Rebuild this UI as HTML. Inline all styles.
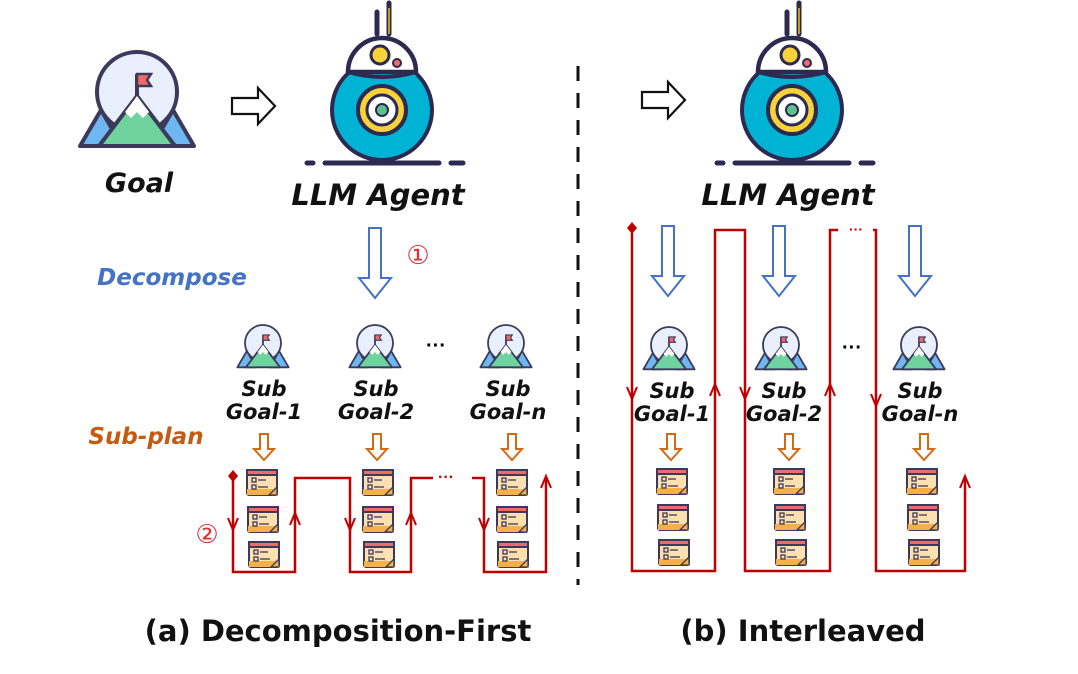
<!DOCTYPE html>
<html><head><meta charset="utf-8"><style>
html,body{margin:0;padding:0;background:#fff;}
svg{display:block;}
.hw{font-family:"DejaVu Sans","Liberation Sans",sans-serif;font-style:italic;font-weight:bold;}
</style></head><body>
<svg width="1078" height="674" viewBox="0 0 1078 674" xmlns="http://www.w3.org/2000/svg">
<defs>
  <g id="mtn">
    <circle cx="0" cy="0" r="40" fill="#E9EFFD" stroke="#3B3A5A" stroke-width="4"/>
    <polygon points="-57,54 -36,18 -15,54" fill="#6FB7F0" stroke="#3B3A5A" stroke-width="4" stroke-linejoin="round"/>
    <polygon points="57,54 36,18 15,54" fill="#6FB7F0" stroke="#3B3A5A" stroke-width="4" stroke-linejoin="round"/>
    <polygon points="-38,54 0,4 38,54" fill="#6ED39E" stroke="#3B3A5A" stroke-width="4" stroke-linejoin="round"/>
    <polygon points="-12,20 0,4 12,20 6,26 0,20 -6,26" fill="#fff"/>
    <line x1="0" y1="4" x2="0" y2="-18" stroke="#3B3A5A" stroke-width="4"/>
    <polygon points="0,-18 14,-18 10,-12 14,-6 0,-6" fill="#F06A6A" stroke="#3B3A5A" stroke-width="2.5"/>
  </g>
  <g id="robot">
    <line x1="0" y1="34" x2="0" y2="12" stroke="#2C2A50" stroke-width="5" stroke-linecap="round"/>
    <line x1="12" y1="34" x2="12" y2="3" stroke="#2C2A50" stroke-width="5" stroke-linecap="round"/>
    <line x1="12" y1="34" x2="12" y2="8" stroke="#F5C400" stroke-width="1.5"/>
    <circle cx="5" cy="110" r="50" fill="#00B3D4" stroke="#2C2A50" stroke-width="4"/>
    <path d="M-29,72 A34,34 0 0 1 39,72 L-29,72 Z" fill="#fff" stroke="#2C2A50" stroke-width="4.5" stroke-linejoin="round"/>
    <path d="M-29,72 Q5,82 39,72" fill="none" stroke="#2C2A50" stroke-width="4"/>
    <circle cx="3" cy="55" r="9" fill="#F7D23A" stroke="#2C2A50" stroke-width="3"/>
    <circle cx="20" cy="63" r="4" fill="#F06A6A" stroke="#2C2A50" stroke-width="2"/>
    <circle cx="5" cy="110" r="24" fill="#F7D23A" stroke="#2C2A50" stroke-width="4"/>
    <circle cx="5" cy="110" r="15" fill="#fff" stroke="#2C2A50" stroke-width="3"/>
    <circle cx="5" cy="110" r="6" fill="#5BC28E" stroke="#2C2A50" stroke-width="2"/>
    <line x1="-70" y1="163" x2="-64" y2="163" stroke="#2C2A50" stroke-width="5" stroke-linecap="round"/>
    <line x1="-52" y1="163" x2="62" y2="163" stroke="#2C2A50" stroke-width="5" stroke-linecap="round"/>
    <line x1="74" y1="163" x2="86" y2="163" stroke="#2C2A50" stroke-width="5" stroke-linecap="round"/>
  </g>
  <g id="cal">
    <rect x="-15" y="-13" width="30" height="25" rx="2" fill="#FCE0B0" stroke="#3B3A5A" stroke-width="2"/>
    <rect x="-15" y="-13" width="30" height="5" fill="#F06A6A" stroke="#3B3A5A" stroke-width="2"/>
    <rect x="-15" y="6" width="30" height="6" fill="#F5B04A"/>
    <rect x="-10" y="-5" width="4" height="4" fill="none" stroke="#3B3A5A" stroke-width="1.3"/>
    <rect x="-10" y="2" width="4" height="4" fill="none" stroke="#3B3A5A" stroke-width="1.3"/>
    <line x1="-4" y1="-3" x2="4" y2="-3" stroke="#3B3A5A" stroke-width="1.3"/>
    <line x1="-4" y1="4" x2="6" y2="4" stroke="#3B3A5A" stroke-width="1.3"/>
    <polygon points="7,12 15,4 15,12" fill="#F5B04A" stroke="#3B3A5A" stroke-width="1.3"/>
  </g>
  <path id="barrow" d="M-6,0 L6,0 L6,50 L16,50 L0,70 L-16,50 L-6,50 Z" fill="#fff" stroke="#4472C4" stroke-width="2"/>
  <path id="oarrow" d="M-4,0 L4,0 L4,15 L10,15 L0,26 L-10,15 L-4,15 Z" fill="#fff" stroke="#D36A15" stroke-width="2"/>
  <path id="rarrow" d="M0,-8 L26,-8 L26,-18 L43,0 L26,18 L26,8 L0,8 Z" fill="#fff" stroke="#111" stroke-width="2.2"/>
  <path id="down" d="M-5,-10 L0,2 L5,-10 M0,2 L0,-12" fill="none" stroke="#C00000" stroke-width="2"/>
  <path id="up" d="M-5,10 L0,-2 L5,10" fill="none" stroke="#C00000" stroke-width="2"/>
</defs>

<use href="#mtn" x="137" y="92"/>
<text x="139" y="192" class="hw" font-size="27" text-anchor="middle" fill="#111">Goal</text>
<use href="#rarrow" x="232" y="106"/>
<use href="#robot" x="377" y="0"/>
<text x="378" y="205" class="hw" font-size="29" text-anchor="middle" fill="#111">LLM Agent</text>

<use href="#rarrow" x="642" y="100"/>
<use href="#robot" x="787" y="0"/>
<text x="788" y="205" class="hw" font-size="29" text-anchor="middle" fill="#111">LLM Agent</text>

<line x1="578" y1="66" x2="578" y2="585" stroke="#111" stroke-width="3" stroke-dasharray="15,12"/>

<use href="#barrow" x="375" y="228"/>
<text x="418" y="264" font-family="DejaVu Sans,sans-serif" font-size="26" fill="#E03030" text-anchor="middle">①</text>
<text x="172" y="285" class="hw" font-size="23" text-anchor="middle" fill="#4472C4">Decompose</text>
<text x="146" y="444" class="hw" font-size="23" text-anchor="middle" fill="#C55A11">Sub-plan</text>
<text x="207" y="543" font-family="DejaVu Sans,sans-serif" font-size="26" fill="#E03030" text-anchor="middle">②</text>

<use href="#mtn" transform="translate(263,343) scale(0.45)"/>
<use href="#mtn" transform="translate(375,343) scale(0.45)"/>
<use href="#mtn" transform="translate(506,343) scale(0.45)"/>
<text x="436" y="352" font-family="Liberation Sans,sans-serif" font-size="20" font-weight="bold" text-anchor="middle">···</text>
<g class="hw" font-size="21" text-anchor="middle" fill="#111">
  <text x="264" y="396">Sub</text><text x="264" y="419">Goal-1</text>
  <text x="376" y="396">Sub</text><text x="376" y="419">Goal-2</text>
  <text x="508" y="396">Sub</text><text x="508" y="419">Goal-n</text>
</g>
<use href="#oarrow" x="264" y="434"/>
<use href="#oarrow" x="377" y="434"/>
<use href="#oarrow" x="512" y="434"/>
<use href="#cal" x="262" y="483"/><use href="#cal" x="263" y="520"/><use href="#cal" x="264" y="555"/>
<use href="#cal" x="378" y="483"/><use href="#cal" x="378" y="520"/><use href="#cal" x="379" y="555"/>
<use href="#cal" x="512" y="483"/><use href="#cal" x="512" y="520"/><use href="#cal" x="513" y="555"/>
<path d="M233,476 L233,572 L295,572 L295,478 L350,478 L350,572 L411,572 L411,478 L433,478 M472,478 L484,478 L484,572 L546,572 L546,478" fill="none" stroke="#C00000" stroke-width="2.5"/>
<path d="M233,470 L238,476 L233,482 L228,476 Z" fill="#C00000"/>
<text x="446" y="482" font-family="Liberation Sans,sans-serif" font-size="16" font-weight="bold" fill="#C00000" text-anchor="middle">···</text>
<use href="#down" x="233" y="528"/><use href="#down" x="350" y="528"/><use href="#down" x="484" y="528"/>
<use href="#up" x="295" y="515"/><use href="#up" x="411" y="515"/><use href="#up" x="546" y="478"/>

<use href="#barrow" x="668" y="226"/>
<use href="#barrow" x="779" y="226"/>
<use href="#barrow" x="915" y="226"/>
<use href="#mtn" transform="translate(669,345) scale(0.45)"/>
<use href="#mtn" transform="translate(781,345) scale(0.45)"/>
<use href="#mtn" transform="translate(919,345) scale(0.45)"/>
<text x="852" y="354" font-family="Liberation Sans,sans-serif" font-size="20" font-weight="bold" text-anchor="middle">···</text>
<g class="hw" font-size="21" text-anchor="middle" fill="#111">
  <text x="672" y="398">Sub</text><text x="672" y="421">Goal-1</text>
  <text x="784" y="398">Sub</text><text x="784" y="421">Goal-2</text>
  <text x="920" y="398">Sub</text><text x="920" y="421">Goal-n</text>
</g>
<use href="#oarrow" x="671" y="434"/>
<use href="#oarrow" x="789" y="434"/>
<use href="#oarrow" x="924" y="434"/>
<use href="#cal" x="672" y="482"/><use href="#cal" x="673" y="518"/><use href="#cal" x="674" y="553"/>
<use href="#cal" x="789" y="482"/><use href="#cal" x="790" y="518"/><use href="#cal" x="791" y="553"/>
<use href="#cal" x="922" y="482"/><use href="#cal" x="923" y="518"/><use href="#cal" x="924" y="553"/>
<path d="M632,228 L632,571 L715,571 L715,230 L745,230 L745,571 L830,571 L830,230 L838,230 M873,230 L876,230 L876,571 L965,571 L965,478" fill="none" stroke="#C00000" stroke-width="2.5"/>
<path d="M632,222 L637,228 L632,234 L627,228 Z" fill="#C00000"/>
<text x="856" y="234" font-family="Liberation Sans,sans-serif" font-size="14" font-weight="bold" fill="#C00000" text-anchor="middle">···</text>
<use href="#down" x="632" y="397"/><use href="#down" x="745" y="397"/><use href="#down" x="876" y="404"/>
<use href="#up" x="715" y="386"/><use href="#up" x="830" y="386"/><use href="#up" x="965" y="478"/>

<text x="338" y="641" font-family="DejaVu Sans,sans-serif" font-weight="bold" font-size="29" text-anchor="middle" fill="#111">(a) Decomposition-First</text>
<text x="803" y="641" font-family="DejaVu Sans,sans-serif" font-weight="bold" font-size="29" text-anchor="middle" fill="#111">(b) Interleaved</text>
</svg>
</body></html>
